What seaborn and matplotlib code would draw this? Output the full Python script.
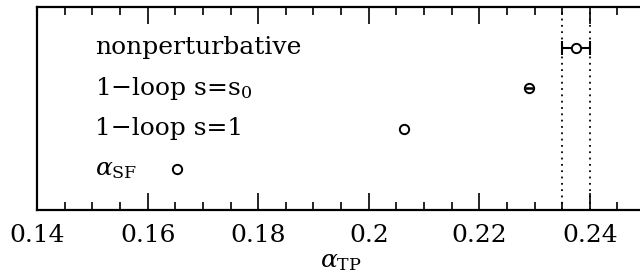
import matplotlib
matplotlib.use("Agg")
import matplotlib.pyplot as plt
from matplotlib.ticker import MultipleLocator
import seaborn as sns
import pandas as pd

# values
labels = ["nonperturbative", "1\u2212loop s=s$_0$", "1\u2212loop s=1", r"$\alpha_{\rm SF}$"]
alpha_tp = [0.2375, 0.2290, 0.2064, 0.1653]
err_lo = [0.0026, 0.0008, 0.0, 0.0]
err_hi = [0.0025, 0.0008, 0.0, 0.0]
row = [4, 3, 2, 1]
band = [0.235, 0.240]

df = pd.DataFrame({"label": labels, "alpha": alpha_tp, "row": row})

sns.set_theme(style="ticks")
plt.rcParams["font.family"] = ["DejaVu Serif", "DejaVu Sans"]
plt.rcParams["mathtext.fontset"] = "dejavuserif"
plt.rcParams["text.color"] = "black"
plt.rcParams["axes.labelcolor"] = "black"
plt.rcParams["xtick.color"] = "black"

fig = plt.figure(figsize=(6.4, 2.78), dpi=100)
ax = fig.add_axes([0.058, 0.245, 0.95, 0.73])

# error bars (nonperturbative behind marker, s0 drawn through marker)
ax.errorbar(df["alpha"][:1], df["row"][:1], xerr=[err_lo[:1], err_hi[:1]],
            fmt="none", ecolor="black", elinewidth=1.5, capsize=5, capthick=1.5, zorder=2)
sns.scatterplot(data=df, x="alpha", y="row", ax=ax, s=45, marker="o",
                facecolor="white", edgecolor="black", linewidth=1.4, zorder=3, legend=False)
ax.errorbar(df["alpha"][1:2], df["row"][1:2], xerr=[err_lo[1:2], err_hi[1:2]],
            fmt="none", ecolor="black", elinewidth=1.8, capsize=0, zorder=4)

for b in band:
    ax.axvline(b, color="black", linestyle=(0, (1, 2.5)), linewidth=1.3, zorder=1)

for lab, r in zip(labels, row):
    ax.text(0.1505, r, lab, fontsize=18, va="center", ha="left", color="black")

ax.set_xlim(0.14, 0.25)
ax.set_ylim(0, 5)
ax.set_yticks([])
ax.xaxis.set_major_locator(MultipleLocator(0.02))
ax.xaxis.set_minor_locator(MultipleLocator(0.005))
ax.set_xticks([0.14, 0.16, 0.18, 0.2, 0.22, 0.24])
ax.set_xticklabels(["0.14", "0.16", "0.18", "0.2", "0.22", "0.24"])
ax.tick_params(axis="x", which="both", direction="in", top=True, bottom=True,
               labelsize=18, width=1.2, color="black", labelcolor="black")
ax.tick_params(axis="x", which="major", length=12, pad=10)
ax.tick_params(axis="x", which="minor", length=5.5)
for s in ax.spines.values():
    s.set_linewidth(1.6)
    s.set_color("black")
ax.set_xlabel(r"$\alpha_{\rm TP}$", fontsize=18, labelpad=2)
ax.set_ylabel("")

fig.savefig("out.png", dpi=100)
